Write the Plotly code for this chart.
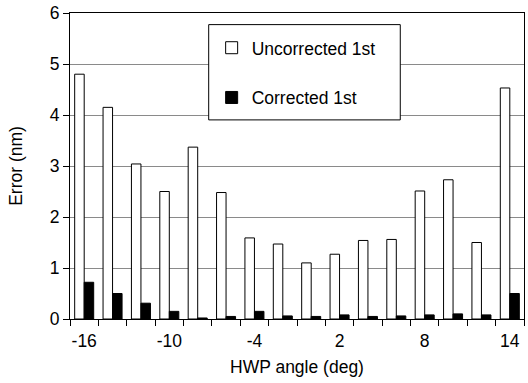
import plotly.graph_objects as go

angles = ["-16", "-14", "-12", "-10", "-8", "-6", "-4", "-2", "0", "2", "4", "6", "8", "10", "12", "14"]
uncorrected = [4.80, 4.15, 3.04, 2.50, 3.37, 2.48, 1.59, 1.47, 1.10, 1.27, 1.54, 1.56, 2.51, 2.73, 1.50, 4.53]
corrected = [0.72, 0.50, 0.31, 0.15, 0.02, 0.05, 0.15, 0.06, 0.05, 0.08, 0.05, 0.06, 0.08, 0.10, 0.08, 0.50]
tick_text = [a if i % 3 == 0 else "" for i, a in enumerate(angles)]

FONT = "Liberation Sans, Arial, sans-serif"
FS = 17.5

fig = go.Figure()
fig.add_trace(go.Bar(x=angles, y=uncorrected, name="Uncorrected 1st",
                     marker=dict(color="white", line=dict(color="black", width=1)),
                     legendgroup="a"))
fig.add_trace(go.Bar(x=angles, y=corrected, name="Corrected 1st",
                     marker=dict(color="black", line=dict(color="black", width=1)),
                     legendgroup="b"))

fig.update_layout(
    width=528, height=383,
    margin=dict(l=70, r=3, t=11, b=64),
    paper_bgcolor="white", plot_bgcolor="white",
    font=dict(family=FONT, size=FS, color="black"),
    barmode="group", bargap=0.33, bargroupgap=0.0,
    legend=dict(x=0.312, y=0.945, xanchor="left", yanchor="top",
                bgcolor="rgba(0,0,0,0)", borderwidth=0,
                traceorder="grouped", tracegroupgap=24,
                font=dict(family=FONT, size=FS)),
    shapes=[dict(type="rect", xref="paper", yref="paper",
                 x0=(209 - 70) / 455, x1=(401 - 70) / 455,
                 y0=(319.3 - 118.7) / 308.3, y1=(319.3 - 22.7) / 308.3,
                 line=dict(color="black", width=1), fillcolor="white", layer="above")],
)
fig.update_xaxes(type="category", tickmode="array", tickvals=angles, ticktext=tick_text,
                 tickson="boundaries", ticks="outside", ticklen=6, tickcolor="black",
                 tickangle=0, ticklabelstandoff=6,
                 showline=True, linecolor="black", linewidth=1, mirror=True,
                 showgrid=False,
                 title=dict(text="HWP angle (deg)", standoff=10, font=dict(size=FS)))
fig.update_yaxes(range=[0, 6], dtick=1, ticks="outside", ticklen=6, tickcolor="black",
                 showline=True, linecolor="black", linewidth=1, mirror=True,
                 showgrid=True, gridcolor="#8a8a8a", gridwidth=1, zeroline=False,
                 title=dict(text="Error (nm)", standoff=22, font=dict(size=FS)))

fig.write_html("out.html")
